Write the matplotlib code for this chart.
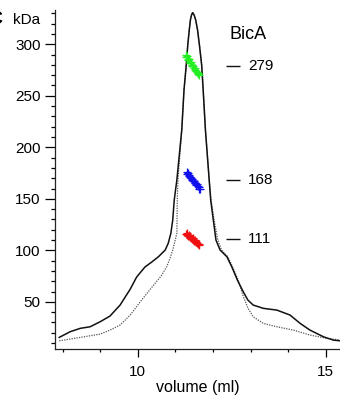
import matplotlib
matplotlib.use("Agg")
import matplotlib.pyplot as plt
from matplotlib.ticker import MultipleLocator

plt.rcParams['font.family'] = ['Liberation Sans', 'DejaVu Sans']

# elution profile, solid trace (volume in ml, signal in axis units)
solid_x = [7.91, 8.20, 8.47, 8.73, 9.00, 9.26, 9.53, 9.80, 9.97, 10.19, 10.37,
           10.55, 10.73, 10.81, 10.88, 10.93, 10.97, 11.04, 11.17, 11.23, 11.29,
           11.33, 11.37, 11.40, 11.43, 11.46, 11.50, 11.54, 11.59, 11.64, 11.70,
           11.74, 11.80, 11.90, 11.94, 12.01, 12.08, 12.19, 12.37, 12.50, 12.65,
           12.81, 12.93, 13.07, 13.34, 13.70, 14.05, 14.32, 14.58, 14.94, 15.20,
           15.38]
solid_y = [15.5, 21.0, 24.3, 25.8, 30.7, 36.2, 46.9, 62.4, 74.1, 83.8, 88.6,
           93.8, 100.3, 106.8, 116.5, 129.4, 148.8, 168.3, 216.8, 255.6, 279.9,
           299.3, 313.9, 323.6, 328.4, 330.7, 328.4, 323.6, 313.9, 299.3, 279.9,
           255.6, 216.8, 168.3, 148.8, 129.4, 110.0, 100.3, 93.8, 84.1, 71.2,
           59.5, 51.7, 46.9, 43.7, 42.0, 37.2, 29.1, 22.6, 16.1, 12.9,
           12.2]

# dotted trace
dot_x = [7.91, 8.47, 9.00, 9.26, 9.53, 9.80, 10.06, 10.25, 10.46, 10.62, 10.77,
         10.86, 10.93, 11.04, 11.05, 11.07, 11.17, 11.23, 11.29, 11.33, 11.37,
         11.40, 11.43, 11.46, 11.50, 11.54, 11.59, 11.64, 11.70, 11.74, 11.80,
         11.90, 11.95, 12.03, 12.13, 12.23, 12.40, 12.54, 12.67, 12.81, 12.93,
         13.07, 13.34, 13.70, 14.14, 14.58, 15.03, 15.38]
dot_y = [12.2, 15.5, 18.7, 22.6, 27.5, 37.2, 49.8, 58.5, 68.0, 75.0, 84.1,
         92.5, 100.3, 116.5, 148.8, 168.3, 216.8, 255.6, 279.9, 299.3, 313.9,
         323.6, 328.4, 330.7, 328.4, 323.6, 313.9, 299.3, 279.9, 255.6, 216.8,
         168.3, 148.8, 129.4, 110.0, 100.3, 93.5, 82.5, 71.2, 55.0, 44.0,
         35.5, 29.1, 25.8, 22.6, 17.8, 14.6, 13.0]

# molar mass points (kDa) across the peak
green_x = [11.28, 11.29, 11.31, 11.33, 11.34, 11.36, 11.38, 11.40, 11.41, 11.43,
           11.45, 11.47, 11.49, 11.51, 11.53, 11.55, 11.57, 11.59, 11.61, 11.63]
green_y = [290.0, 287.5, 288.5, 286.0, 284.5, 285.5, 283.0, 281.5, 282.5, 280.0,
           278.5, 279.0, 277.0, 275.5, 276.5, 274.0, 273.0, 272.0, 271.5, 270.0]
blue_x = [11.30, 11.32, 11.34, 11.35, 11.37, 11.39, 11.41, 11.43, 11.45, 11.47,
          11.49, 11.51, 11.53, 11.55, 11.57, 11.60, 11.62, 11.64, 11.66]
blue_y = [176.0, 174.5, 175.0, 172.5, 173.0, 171.0, 170.0, 169.5, 168.0, 167.0,
          167.5, 165.0, 165.5, 163.5, 164.0, 162.0, 161.5, 160.0, 159.5]
red_x = [11.28, 11.30, 11.32, 11.34, 11.36, 11.38, 11.40, 11.42, 11.44, 11.46,
         11.48, 11.50, 11.52, 11.54, 11.56, 11.58, 11.60, 11.62, 11.64]
red_y = [116.0, 115.0, 116.5, 114.0, 114.5, 113.0, 113.5, 112.0, 111.0, 111.5,
         110.0, 109.5, 110.0, 108.5, 108.0, 107.5, 106.5, 106.0, 105.0]

standards = [279, 168, 111]

fig = plt.figure(figsize=(3.4, 3.98), dpi=100)
ax = fig.add_axes([0.162, 0.123, 0.838, 0.852])

ax.plot(dot_x, dot_y, color='#555555', lw=0.9, linestyle=(0, (1, 1)))
ax.plot(solid_x, solid_y, color='#111111', lw=1.1)

ax.plot(green_x, green_y, '+', color='#22ee22', ms=5.5, mew=0.9)
ax.plot(blue_x, blue_y, '+', color='#1010ee', ms=5.5, mew=0.9)
ax.plot(red_x, red_y, '+', color='#ee1010', ms=5.5, mew=0.9)

# size standards on the right
ax.hlines(standards, 12.36, 12.72, color='#111111', lw=1.0)
for s in standards:
    ax.text(12.93, s, str(s), fontsize=11, va='center', ha='left')

ax.text(12.45, 309, 'BicA', fontsize=13, va='center', ha='left')

ax.set_xlim(7.8, 15.38)
ax.set_ylim(4.2, 333.3)

ax.set_xticks([10, 15])
ax.xaxis.set_minor_locator(MultipleLocator(1))
ax.set_yticks([50, 100, 150, 200, 250, 300])
ax.yaxis.set_minor_locator(MultipleLocator(10))

ax.tick_params(axis='y', which='major', length=7, width=0.9, pad=3.5, labelsize=11)
ax.tick_params(axis='y', which='minor', length=3, width=0.9)
ax.tick_params(axis='x', which='major', length=5.5, width=0.9, pad=6, labelsize=11)
ax.tick_params(axis='x', which='minor', length=2.5, width=0.9)

for side in ['top', 'right']:
    ax.spines[side].set_visible(False)
for side in ['left', 'bottom']:
    ax.spines[side].set_linewidth(0.9)
    ax.spines[side].set_color('#222222')

ax.set_xlabel('volume (ml)', fontsize=11.5, labelpad=1)

fig.text(0.038, 0.95, 'kDa', fontsize=11, va='center', ha='left')
fig.text(0.008, 0.95, 'C', fontsize=13, fontweight='bold', va='center', ha='right')

fig.savefig('out.png', dpi=100)
